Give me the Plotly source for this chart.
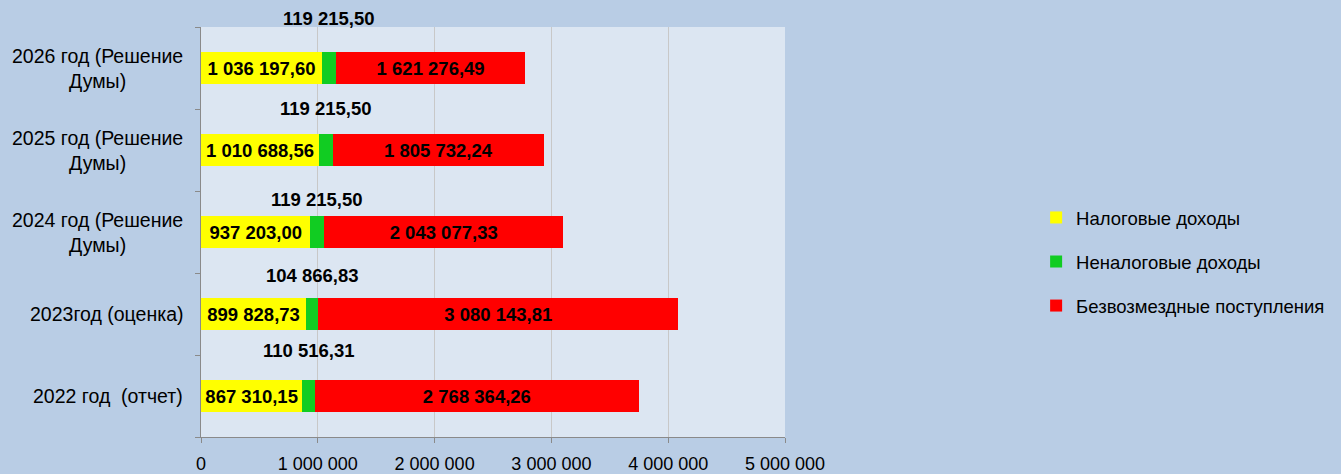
import plotly.graph_objects as go

categories = ["2022 год  (отчет)", "2023год (оценка)", "2024 год (Решение<br>Думы)",
              "2025 год (Решение<br>Думы)", "2026 год (Решение<br>Думы)"]
tax = [867310.15, 899828.73, 937203.00, 1010688.56, 1036197.60]
nontax = [110516.31, 104866.83, 119215.50, 119215.50, 119215.50]
grants = [2768364.26, 3080143.81, 2043077.33, 1805732.24, 1621276.49]
series_names = ["Налоговые доходы", "Неналоговые доходы", "Безвозмездные поступления"]
x_ticks = [0, 1000000, 2000000, 3000000, 4000000, 5000000]

label_shift = [46, 39, 33, 42, 50]

FAM = "Liberation Sans, Arial, sans-serif"
LBL_FONT = dict(family=FAM, size=18.5, color="black")

fig = go.Figure()
fig.add_trace(go.Bar(y=categories, x=tax, orientation="h", name=series_names[0],
                     marker=dict(color="#ffff00", line=dict(width=0)),
                     texttemplate="<b>%{x:,.2f}</b>", textposition="inside",
                     insidetextanchor="middle", textangle=0, constraintext="none",
                     textfont=LBL_FONT, legendgroup="a"))
fig.add_trace(go.Bar(y=categories, x=nontax, orientation="h", name=series_names[1],
                     marker=dict(color="#11cc22", line=dict(width=0)),
                     textposition="none", legendgroup="b"))
fig.add_trace(go.Bar(y=categories, x=grants, orientation="h", name=series_names[2],
                     marker=dict(color="#ff0000", line=dict(width=0)),
                     texttemplate="<b>%{x:,.2f}</b>", textposition="inside",
                     insidetextanchor="middle", textangle=0, constraintext="none",
                     textfont=LBL_FONT, legendgroup="c"))

for i, c in enumerate(categories):
    txt = f"{nontax[i]:,.2f}".replace(",", " ").replace(".", ",")
    fig.add_annotation(x=tax[i] + nontax[i] / 2, y=c, text="<b>" + txt + "</b>",
                       showarrow=False, yshift=label_shift[i], font=LBL_FONT)
    fig.add_annotation(x=0, xref="paper", y=c, text=c, showarrow=False,
                       xanchor="right", align="center", xshift=-16,
                       font=dict(family=FAM, size=19.5, color="black"))

fig.update_layout(
    barmode="stack",
    bargap=0.6,
    separators=", ",
    width=1341, height=474,
    margin=dict(l=201, r=556, t=27, b=37, autoexpand=False),
    paper_bgcolor="#b9cde5",
    plot_bgcolor="#dce6f2",
    font=dict(family=FAM, size=16, color="black"),
    showlegend=True,
    legend=dict(x=1.43, y=0.427, xanchor="left", yanchor="middle",
                bgcolor="rgba(0,0,0,0)", tracegroupgap=17,
                font=dict(family=FAM, size=18.5, color="black")),
    xaxis=dict(range=[0, 5000000], tickvals=x_ticks, tickformat=",d",
               showgrid=True, gridcolor="#c8c8c8", gridwidth=1,
               showline=True, linecolor="#8a8a8a", linewidth=1,
               ticks="outside", ticklen=5, tickcolor="#8a8a8a",
               zeroline=False, ticklabelstandoff=5, automargin=False,
               tickfont=dict(family=FAM, size=18, color="black")),
    yaxis=dict(range=[-0.5, 4.5], showgrid=False, showline=True, linecolor="#8a8a8a", linewidth=1,
               ticks="outside", ticklen=5, tickcolor="#8a8a8a", tickson="boundaries",
               showticklabels=False, automargin=False),
)

fig.write_html("out.html", config={"displayModeBar": False},
               post_script="document.body.style.margin='0';document.body.style.overflow='hidden';")
